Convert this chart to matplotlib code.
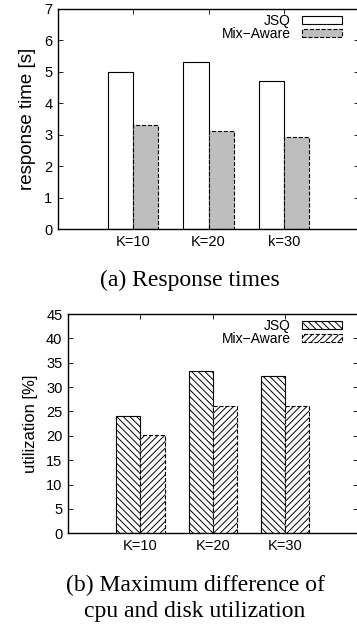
import matplotlib
matplotlib.use("Agg")
import matplotlib.pyplot as plt
import numpy as np

# data
groups_a = ["K=10", "K=20", "k=30"]
jsq_resp = [5.0, 5.3, 4.7]
mix_resp = [3.32, 3.12, 2.93]

groups_b = ["K=10", "K=20", "K=30"]
jsq_util = [24.1, 33.4, 32.2]
mix_util = [20.1, 26.2, 26.2]

plt.rcParams['font.family'] = ['Liberation Sans', 'DejaVu Sans']
plt.rcParams['hatch.linewidth'] = 0.7

W, H = 357, 625
fig = plt.figure(figsize=(W / 100, H / 100), dpi=100)


def box(l, r, t, b):
    # pixel box -> figure fraction
    return [l / W, 1 - b / H, (r - l) / W, (b - t) / H]


def style(ax, ylim, yticks, ylabel, labels, ylsize):
    ax.set_xlim(-1, 3)
    ax.set_ylim(*ylim)
    ax.set_yticks(yticks)
    ax.set_xticks(np.arange(len(labels)))
    ax.set_xticklabels(labels)
    ax.set_ylabel(ylabel, fontsize=ylsize, labelpad=6)
    ax.tick_params(direction='in', top=True, right=True, labelsize=10.5,
                   length=3.5, width=0.6, pad=4)
    for s in ax.spines.values():
        s.set_linewidth(1.0)


def legend(ax, top_px):
    ax.legend(loc='upper right', bbox_to_anchor=(342 / W, 1 - top_px / H),
              bbox_transform=fig.transFigure, frameon=False, markerfirst=False,
              fontsize=10, handlelength=2.9, handleheight=0.5, labelspacing=-0.05,
              handletextpad=0.8, borderaxespad=0, borderpad=0)


w = 1 / 3
x = np.arange(3)

# (a) response times
ax1 = fig.add_axes(box(58, 359, 9, 229))
ax1.bar(x - w / 2, jsq_resp, w, color='white', edgecolor='black',
        linewidth=0.8, label='JSQ')
ax1.bar(x + w / 2, mix_resp, w, color='#bebebe', edgecolor='black',
        linewidth=0.8, linestyle='--', label='Mix\u2212Aware')
style(ax1, (0, 7), range(0, 8), 'response time [s]', groups_a, 13.5)
legend(ax1, 14)
fig.text(190 / W, 1 - 280 / H, '(a) Response times', ha='center', va='center',
         fontsize=17, family='Liberation Serif')

# (b) utilization difference
ax2 = fig.add_axes(box(68, 357.5, 314, 533.3))
ax2.bar(x - w / 2, jsq_util, w, color='white', edgecolor='black',
        linewidth=0.8, hatch='\\\\\\\\\\', label='JSQ')
ax2.bar(x + w / 2, mix_util, w, color='white', edgecolor='black',
        linewidth=0.8, linestyle='--', hatch='/////', label='Mix\u2212Aware')
style(ax2, (0, 45), range(0, 50, 5), 'utilization [%]', groups_b, 12)
legend(ax2, 319)
fig.text(195 / W, 1 - 585 / H, '(b) Maximum difference of', ha='center',
         va='center', fontsize=17, family='Liberation Serif')
fig.text(195 / W, 1 - 612 / H, 'cpu and disk utilization', ha='center',
         va='center', fontsize=17, family='Liberation Serif')

fig.savefig('out.png', dpi=100)
